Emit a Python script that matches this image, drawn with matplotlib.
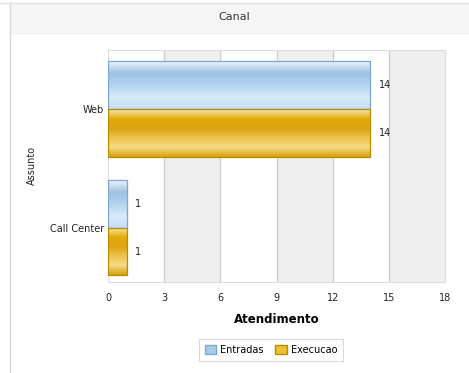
import numpy as np
import matplotlib
matplotlib.use("Agg")
import matplotlib.pyplot as plt
from matplotlib.colors import LinearSegmentedColormap
from matplotlib.patches import Patch, Rectangle

categories = ["Web", "Call Center"]
entradas = [14, 1]
execucao = [14, 1]
series_names = ["Entradas", "Execucao"]
xticks = [0, 3, 6, 9, 12, 15, 18]

fig = plt.figure(figsize=(4.69, 3.73), dpi=100)
fig.patch.set_facecolor("white")

# frame and title band
fig.add_artist(Rectangle((10 / 469, 1 - 35 / 373), 1, 31 / 373, transform=fig.transFigure,
                         facecolor="#f6f6f6", edgecolor="none"))
fig.add_artist(plt.Line2D([10 / 469, 10 / 469], [0.0, 1 - 3 / 373], transform=fig.transFigure,
                          color="#d8d8d8", lw=1))
fig.add_artist(plt.Line2D([0, 1], [1 - 3 / 373, 1 - 3 / 373], transform=fig.transFigure,
                          color="#e2e2e2", lw=1))
fig.text(234 / 469, 1 - 17 / 373, "Canal", ha="center", va="center", fontsize=8, color="#333333")

ax = fig.add_axes([108 / 469, 1 - 282 / 373, 337 / 469, 232 / 373])

# alternating bands
for i in range(len(xticks) - 1):
    if i % 2 == 1:
        ax.axvspan(xticks[i], xticks[i + 1], color="#efefef", zorder=0)
for x in xticks[1:-1]:
    ax.axvline(x, color="#cfcfcf", lw=0.9, zorder=0.5)

y = np.arange(len(categories))
h = 0.4
b1 = ax.barh(y - h / 2, entradas, height=h, color="#b8d6f0", edgecolor="none", zorder=2)
b2 = ax.barh(y + h / 2, execucao, height=h, color="#e6b21c", edgecolor="none", zorder=2)

blue = LinearSegmentedColormap.from_list("b", ["#eaf4fc", "#9ec2e4", "#b3d3ee", "#d6ebfb", "#c4def3"])
gold = LinearSegmentedColormap.from_list("g", ["#fbe9a8", "#e2ac0c", "#dca410", "#ecc24a", "#f6da86", "#d7a20e"])
grad = np.linspace(0, 1, 64).reshape(-1, 1)
for bars, cmap, ec in [(b1, blue, "#7fa6cc"), (b2, gold, "#b78b00")]:
    for p in bars:
        x0, y0, w, hh = p.get_x(), p.get_y(), p.get_width(), p.get_height()
        im = ax.imshow(grad, cmap=cmap, aspect="auto", extent=[x0, x0 + w, y0 + hh, y0],
                       zorder=2.5, interpolation="bicubic")
        im.set_clip_path(p)
        ax.add_patch(Rectangle((x0, y0), w, hh, facecolor="none", edgecolor=ec, lw=0.9, zorder=2.8))

for bars, vals in [(b1, entradas), (b2, execucao)]:
    for p, v in zip(bars, vals):
        ax.text(p.get_width() + 0.45, p.get_y() + p.get_height() / 2, str(v),
                va="center", ha="left", fontsize=7, color="#222222", zorder=3)

ax.set_xlim(0, 18)
ax.set_ylim(1.455, -0.496)
ax.set_xticks(xticks)
ax.set_xticklabels([str(t) for t in xticks], fontsize=7, color="#222222")
ax.set_yticks(y)
ax.set_yticklabels(categories, fontsize=7, color="#222222")
ax.tick_params(length=0, pad=8)
ax.tick_params(axis="y", pad=3)
for s in ax.spines.values():
    s.set_color("#dddddd")
    s.set_linewidth(0.8)

ax.set_xlabel("Atendimento", fontsize=8.5, fontweight="bold", labelpad=7)
fig.text(32 / 469, 1 - 165 / 373, "Assunto", rotation=90, ha="center", va="center",
         fontsize=7, color="#222222")

handles = [Patch(facecolor="#a8cbea", edgecolor="#7fa6cc"), Patch(facecolor="#f0c030", edgecolor="#b78b00")]
leg = fig.legend(handles, series_names, loc="center", bbox_to_anchor=(271 / 469, 1 - 350 / 373),
                 ncol=2, fontsize=7, frameon=True, fancybox=False, handlelength=1.2,
                 handleheight=1.0, columnspacing=1.2, handletextpad=0.4, borderpad=0.6)
leg.get_frame().set_edgecolor("#d0d0d0")
leg.get_frame().set_linewidth(0.8)

fig.savefig("out.png", dpi=100)
